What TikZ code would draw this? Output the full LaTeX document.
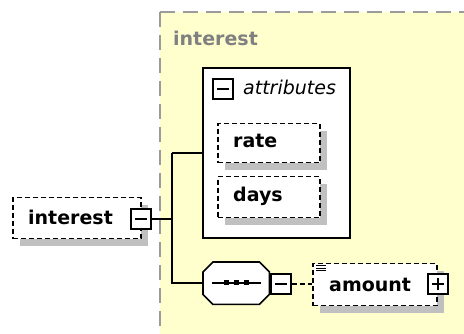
\documentclass[tikz,border=0pt]{standalone}
\usepackage{fontspec}
\setmainfont{DejaVu Sans}
\usetikzlibrary{calc}
\definecolor{bgyellow}{RGB}{255,255,206}
\definecolor{shadowgray}{RGB}{192,192,192}
\definecolor{bordergray}{RGB}{155,155,155}
\definecolor{titlegray}{RGB}{128,128,128}
\begin{document}
\begin{tikzpicture}[x=1pt,y=-1pt,
  conn/.style={draw=black, line width=1.6pt},
  dashconn/.style={draw=black, line width=1.5pt, dash pattern=on 5pt off 3pt},
  shadowed/.style={preaction={fill=shadowgray, draw=none, transform canvas={xshift=7pt,yshift=-7pt}}},
  elembox/.style={shadowed, draw=black, fill=white, line width=1.5pt, dash pattern=on 5pt off 3pt, inner sep=0pt, anchor=north west},
  solidbox/.style={draw=black, fill=white, line width=1.6pt, inner sep=0pt, anchor=north west},
  btn/.style={draw=black, fill=white, solid, line width=1.6pt, minimum size=20pt, inner sep=0pt},
  minusbtn/.style={btn, path picture={\draw[line width=1.6pt] ([xshift=4pt]path picture bounding box.west) -- ([xshift=-4pt]path picture bounding box.east);}},
  plusbtn/.style={btn, path picture={\draw[line width=1.6pt] ([xshift=4pt]path picture bounding box.west) -- ([xshift=-4pt]path picture bounding box.east) ([yshift=-4pt]path picture bounding box.north) -- ([yshift=4pt]path picture bounding box.south);}},
  lbl/.style={font=\fontsize{19pt}{22pt}\selectfont\bfseries, anchor=base west, inner sep=0pt},
  ilbl/.style={font=\fontsize{19pt}{22pt}\selectfont\itshape, anchor=base west, inner sep=0pt},
]
\useasboundingbox (0,0) rectangle (464,334);
% complex type background
\fill[bgyellow] (160,12) rectangle (464,334);
\draw[bordergray, line width=1.5pt, dash pattern=on 15pt off 8pt] (160,12) -- (464,12);
\draw[bordergray, line width=1.5pt, dash pattern=on 15pt off 8pt] (160,12) -- (160,334);
\node[lbl, text=titlegray] (title) at (173,46) {interest};

% left element
\node[elembox, minimum width=128pt, minimum height=41pt] (interestbox) at (12,197) {};
\node[lbl] (interesttxt) at (28,225) {interest};
\node[minusbtn, anchor=north west] (interestbtn) at (130,208) {};

% attributes box
\node[solidbox, minimum width=147pt, minimum height=170pt] (attrbox) at (202,67) {};
\node[minusbtn, anchor=north west] (attrbtn) at (212,78) {};
\node[ilbl] (attrtxt) at (243,95) {attributes};
\node[elembox, minimum width=102pt, minimum height=39pt] (ratebox) at (217,123) {};
\node[lbl] (ratetxt) at (233,148) {rate};
\node[elembox, minimum width=102pt, minimum height=41pt] (daysbox) at (217,176) {};
\node[lbl] (daystxt) at (233,202) {days};

% sequence
\node[inner sep=0pt, minimum width=66pt, minimum height=42pt, anchor=north west] (seq) at (203,262) {};
\fill[shadowgray, shift={(6,7)}]
  ([xshift=10pt]seq.north west) -- ([xshift=-10pt]seq.north east) -- ([yshift=-10pt]seq.north east)
  -- ([yshift=10pt]seq.south east) -- ([xshift=-10pt]seq.south east) -- ([xshift=10pt]seq.south west)
  -- ([yshift=10pt]seq.south west) -- ([yshift=-10pt]seq.north west) -- cycle;
\draw[conn, fill=white]
  ([xshift=10pt]seq.north west) -- ([xshift=-10pt]seq.north east) -- ([yshift=-10pt]seq.north east)
  -- ([yshift=10pt]seq.south east) -- ([xshift=-10pt]seq.south east) -- ([xshift=10pt]seq.south west)
  -- ([yshift=10pt]seq.south west) -- ([yshift=-10pt]seq.north west) -- cycle;
\draw[conn] ([xshift=9pt]seq.west) -- ([xshift=-8pt]seq.east);
\foreach \cx in {226,236,246} { \fill[black] (\cx-2.5,280.5) rectangle (\cx+2.5,285.5); }
\node[minusbtn, anchor=north west] (seqbtn) at (270,273) {};

% amount element
\node[elembox, minimum width=124pt, minimum height=42pt] (amountbox) at (312,263) {};
\draw[line width=1pt] (316,266) -- (326,266) (316,268.5) -- (326,268.5) (316,271) -- (326,271);
\node[lbl] (amounttxt) at (329,292) {amount};
\node[plusbtn, anchor=north west] (amountbtn) at (427,273) {};

% connectors
\coordinate (fork) at (172,218);
\draw[conn] (interestbtn.east) -- (interestbtn.east -| fork);
\draw[conn] (fork |- attrbox.west) -- (attrbox.west);
\draw[conn] (fork |- attrbox.west) -- (fork |- seq.west) -- (seq.west);
\draw[dashconn] (seqbtn.east) -- (seqbtn.east -| amountbox.west);
\end{tikzpicture}
\end{document}
